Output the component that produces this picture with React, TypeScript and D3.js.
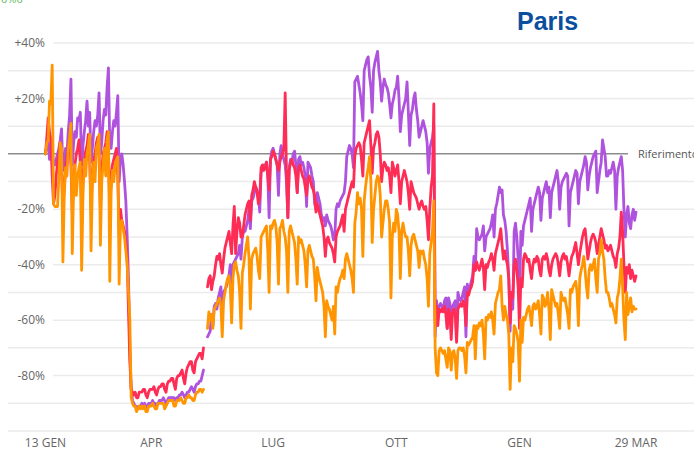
import React, { useEffect } from 'react';
import * as d3 from 'd3';

// daily values from 13 Jan 2020 to 29 Mar 2021, one row per week (Mon..Sun)
const startDate = new Date(2020, 0, 13);
const endDate = new Date(2021, 2, 29);

const xTickDates = [new Date(2020, 0, 13), new Date(2020, 3, 1), new Date(2020, 6, 1), new Date(2020, 9, 1), new Date(2021, 0, 1), new Date(2021, 2, 29)];
const xTickLabels = ['13 GEN', 'APR', 'LUG', 'OTT', 'GEN', '29 MAR'];
const yGrid = [40, 30, 20, 10, -10, -20, -30, -40, -50, -60, -70, -80, -90, -100];
const yLabelTicks = [40, 20, -20, -40, -60, -80];

const walking: (number | null)[] = [
    0, 3, 5, -2, 0, 3, -4,
    -4, -2, 0, 2, 5, 9, -6,
    -3, 2, 0, 8, 14, 27, -4,
    4, 8, 6, 13, 12, 15, -4,
    3, 8, 12, 19, 10, 15, -3,
    2, 8, 12, 10, 14, 22, 0,
    4, 12, 16, 14, 24, 31, 3,
    2, 8, 12, 10, 15, 21, -10,
    -2, 0, -4, -10, -17, -30, -45,
    -70, -85, -89, -90, -91, -91, -92,
    -91, -91, -90, -91, -90, -91, -92,
    -90, -90, -90, -89, -90, -90, -91,
    -90, -89, -89, -89, -88, -89, -90,
    -89, -88, -88, -88, -88, -88, -89,
    -88, -88, -87, -87, -86, -87, -88,
    -87, -86, -86, -85, -84, -85, -86,
    -84, -83, -83, -82, -82, -80, -78,
    null, null, -66, -65, -64, -58, -62,
    -55, -54, -56, -52, -50, -48, -57,
    -50, -49, -48, -46, -44, -40, -48,
    -40, -39, -38, -37, -36, -33, -38,
    -30, -28, -28, -26, -24, -20, -27,
    -17, -16, -14, -12, -13, -15, -21,
    -7, -5, -4, -5, -3, -8, -23,
    -2, 1, 2, 0, -2, -4, -15,
    0, 3, 0, -2, -4, -10, -23,
    -5, -2, -3, 0, 1, -4, -14,
    -2, -1, -4, -3, -5, -8, -19,
    -3, -4, -5, -8, -10, -18, -20,
    -14, -16, -18, -22, -24, -23, -26,
    -22, -24, -25, -26, -28, -31, -30,
    -20, -18, -19, -17, -16, -15, -14,
    -10, -1, 1, 3, 2, 0, -5,
    26, 27, 28, 25, 22, 18, 12,
    30, 32, 34, 35, 28, 24, 15,
    30, 33, 35, 37, 30, 26, 19,
    24, 27, 25, 24, 22, 18, 13,
    18, 20, 23, 24, 28, 20, 8,
    14, 16, 18, 20, 26, 15, 3,
    14, 16, 20, 22, 16, 12, 6,
    8, 10, 12, 10, 8, 4, -7,
    2, 4, 6, 10, -66, -53, -58,
    -55, -54, -55, -56, -53, -52, -63,
    -52, -54, -60, -55, -54, -53, -66,
    -50, -52, -53, -52, -50, -48, -66,
    -47, -49, -48, -46, -44, -37, -42,
    -27, -30, -31, -30, -29, -26, -35,
    -30, -29, -28, -27, -25, -22, -30,
    -20, -18, -15, -12, -14, -13, -22,
    -24, -28, -35, -45, -64, -50, -56,
    -28, -25, -30, -38, -55, -28, -33,
    -26, -24, -22, -20, -18, -16, -28,
    -20, -18, -16, -14, -12, -14, -24,
    -16, -14, -12, -10, -14, -12, -23,
    -14, -12, -10, -8, -6, -10, -20,
    -12, -10, -9, -8, -7, -8, -26,
    -14, -12, -10, -8, -6, -7, -18,
    -10, -8, -6, -4, -1, -3, -13,
    -8, -5, -3, -1, 0, 1, -14,
    -10, -6, -3, 5, 2, -1, -8,
    -8, -6, -7, -5, -3, -6, -20,
    -8, -5, -3, -1, -6, -20, -30,
    -22, -19, -25, -27, -22, -20, -24,
    -21,
];

const driving: (number | null)[] = [
    0, 6, 13, 8, 5, -8, -18,
    -15, -8, -3, 0, 4, -5, -20,
    -12, -5, -1, 2, 6, -4, -21,
    -10, -4, 0, 2, 5, -3, -19,
    -8, -2, 1, 3, 7, -2, -19,
    -8, -2, 0, 4, 6, -1, -20,
    -6, 0, 2, 4, 8, 1, -21,
    -8, -4, -2, 0, 2, -8, -29,
    -20, -24, -26, -28, -32, -38, -57,
    -75, -85, -86, -87, -86, -88, -88,
    -86, -86, -86, -85, -85, -87, -88,
    -86, -85, -85, -85, -84, -86, -87,
    -85, -84, -84, -83, -83, -85, -86,
    -83, -82, -82, -81, -81, -83, -85,
    -81, -80, -80, -79, -78, -81, -83,
    -79, -77, -76, -75, -75, -78, -79,
    -75, -74, -73, -72, -72, -74, -70,
    null, null, -48, -45, -44, -49, -46,
    -44, -40, -37, -38, -36, -40, -43,
    -38, -34, -32, -30, -28, -32, -36,
    -26, -19, -36, -28, -23, -25, -30,
    -30, -26, -22, -20, -18, -17, -24,
    -15, -13, -10, -12, -14, -18, -16,
    -5, -4, -6, -5, -3, -8, -13,
    -2, -1, 1, 0, -2, -4, -6,
    -3, -1, 0, 2, 22, -8, -23,
    -6, -3, -2, -4, -5, -8, -14,
    -5, -4, -6, -8, -9, -12, -15,
    -9, -8, -10, -12, -13, -15, -21,
    -18, -20, -22, -24, -26, -30, -37,
    -31, -30, -32, -33, -34, -36, -39,
    -30, -28, -27, -26, -24, -22, -28,
    -20, -18, -16, -14, -12, -10, -12,
    -1, 2, 3, 4, 3, -2, -8,
    4, 6, 8, 10, 12, 3, -7,
    2, 4, 7, 8, 6, 0, -10,
    -5, -3, -4, -6, -5, -8, -14,
    -3, -5, -8, -6, -4, -10, -18,
    -10, -8, -6, -8, -10, -14, -20,
    -10, -12, -14, -15, -16, -18, -20,
    -18, -17, -19, -20, -19, -24, -31,
    -20, -12, -8, 18, -60, -55, -62,
    -56, -57, -56, -57, -55, -58, -63,
    -56, -58, -67, -57, -56, -58, -68,
    -56, -55, -54, -55, -53, -55, -62,
    -50, -51, -49, -48, -46, -40, -42,
    -39, -41, -42, -40, -38, -41, -49,
    -40, -41, -39, -38, -36, -38, -42,
    -36, -34, -32, -30, -27, -33, -38,
    -35, -38, -40, -45, -61, -50, -52,
    -40, -38, -42, -48, -63, -45, -48,
    -38, -36, -37, -39, -38, -42, -45,
    -40, -38, -39, -37, -38, -42, -44,
    -38, -37, -38, -36, -38, -42, -44,
    -40, -38, -37, -36, -37, -40, -44,
    -39, -37, -36, -38, -37, -40, -44,
    -40, -37, -36, -34, -32, -36, -40,
    -36, -33, -30, -28, -27, -32, -38,
    -35, -32, -30, -29, -30, -32, -36,
    -33, -30, -27, -29, -31, -34, -33,
    -35, -34, -33, -35, -37, -38, -41,
    -36, -34, -30, -21, -28, -40, -50,
    -41, -43, -40, -45, -42, -44, -46,
    -44,
];

const transit: (number | null)[] = [
    0, 4, 5, 19, 18, 32, -18,
    -19, -19, -19, -8, 4, 2, -39,
    -15, -5, -8, 2, 6, 11, -36,
    -12, -4, -15, -8, -5, -3, -42,
    -15, -2, -8, 0, 3, 7, -35,
    -12, -3, -10, 2, 4, 7, -33,
    -10, -4, 2, -8, 5, 8, -46,
    -14, -6, -10, -4, -2, -1, -47,
    -25, -24, -27, -30, -35, -40, -50,
    -60, -88, -90, -91, -91, -93, -92,
    -91, -92, -91, -92, -91, -93, -93,
    -91, -91, -91, -90, -91, -92, -92,
    -90, -90, -90, -90, -90, -92, -91,
    -90, -89, -89, -89, -89, -91, -91,
    -89, -89, -89, -88, -89, -90, -90,
    -88, -88, -87, -88, -88, -89, -89,
    -87, -86, -86, -85, -85, -86, -85,
    null, null, -63, -57, -60, -58, -63,
    -56, -55, -54, -53, -52, -55, -66,
    -53, -50, -47, -45, -44, -48, -61,
    -45, -40, -39, -42, -44, -50, -63,
    -43, -40, -36, -33, -30, -38, -56,
    -38, -36, -35, -34, -37, -42, -45,
    -30, -29, -28, -27, -26, -35, -50,
    -26, -27, -25, -24, -26, -32, -47,
    -27, -26, -24, -28, -30, -35, -50,
    -28, -26, -28, -30, -32, -38, -47,
    -30, -32, -31, -33, -35, -40, -48,
    -35, -33, -35, -37, -38, -44, -53,
    -41, -44, -46, -48, -50, -55, -66,
    -53, -55, -56, -58, -60, -55, -65,
    -48, -50, -47, -45, -44, -42, -45,
    -38, -36, -38, -40, -42, -45, -50,
    -25, -21, -14, -18, -16, -20, -37,
    -17, -12, -8, -5, -1, -10, -32,
    -20, -15, -10, -8, -9, -15, -30,
    -25, -20, -17, -17, -20, -25, -52,
    -30, -25, -28, -20, -22, -28, -45,
    -28, -25, -28, -30, -30, -35, -44,
    -33, -30, -29, -31, -33, -35, -41,
    -35, -36, -35, -38, -40, -45, -55,
    -36, -32, -28, -17, -70, -79, -80,
    -71, -70, -71, -72, -71, -74, -77,
    -70, -71, -78, -72, -71, -74, -81,
    -71, -70, -70, -71, -70, -73, -79,
    -68, -69, -68, -67, -66, -62, -74,
    -62, -63, -61, -62, -60, -65, -74,
    -59, -60, -58, -59, -57, -60, -65,
    -54, -52, -50, -49, -44, -55, -60,
    -55, -58, -60, -65, -85, -70, -75,
    -62, -63, -65, -68, -82, -60, -68,
    -59, -60, -58, -56, -55, -58, -62,
    -55, -54, -56, -55, -53, -58, -65,
    -51, -52, -55, -54, -50, -56, -67,
    -49, -51, -53, -55, -54, -58, -63,
    -50, -52, -53, -52, -55, -58, -63,
    -49, -50, -48, -47, -46, -50, -62,
    -45, -42, -40, -37, -42, -48, -52,
    -42, -40, -42, -40, -38, -45, -50,
    -38, -36, -31, -35, -38, -45, -50,
    -50, -52, -55, -54, -56, -58, -61,
    -52, -50, -45, -38, -48, -60, -67,
    -50, -58, -55, -52, -57, -55, -56,
    -56,
];

const seriesList = [
    { name: 'A piedi', values: walking, color: '#af52de' },
    { name: 'In auto', values: driving, color: '#ff2d55' },
    { name: 'Trasporti', values: transit, color: '#ff9500' },
];

const width = 694;
const height = 452;

const App: React.FC = () => {
    useEffect(() => {
        document.body.style.margin = '0';
    }, []);

    const x = d3.scaleTime().domain([startDate, endDate]).range([45.5, 636]);
    const y = d3.scaleLinear().domain([-100, 40]).range([431, 43]);

    const line = d3.line<number | null>()
        .defined(d => d != null)
        .x((d, i) => x(d3.timeDay.offset(startDate, i)))
        .y(d => y(d as number));

    const labelFont = "'Open Sans', 'Noto Sans', sans-serif";

    return (
        <svg width={width} height={height} style={{ display: 'block', background: '#fff' }}>
            <text x={1} y={3} fill="#5cb85c" fontSize={11} fontFamily={labelFont}>0%0</text>

            {/* grid */}
            {yGrid.map(v => (
                <line key={v} x1={yLabelTicks.includes(v) ? 53 : 8} x2={width} y1={y(v)} y2={y(v)}
                    stroke="#ebebeb" strokeWidth={1.5} />
            ))}
            {yLabelTicks.map(v => (
                <text key={v} x={45} y={y(v)} dy="0.35em" textAnchor="end" fill="#666"
                    fontSize={12} fontFamily={labelFont}>{(v > 0 ? '+' : '') + v + '%'}</text>
            ))}

            {/* reference line */}
            <line x1={8} x2={628} y1={y(0)} y2={y(0)} stroke="#8c8c8c" strokeWidth={1.5} />
            <text x={638} y={y(0)} dy="0.35em" fill="#555" fontSize={11} fontFamily={labelFont}>Riferimento</text>

            {xTickDates.map((d, i) => (
                <text key={i} x={x(d)} y={447} textAnchor="middle" fill="#666" fontSize={12}
                    fontFamily={labelFont}>{xTickLabels[i]}</text>
            ))}

            {seriesList.map(s => (
                <path key={s.name} d={line(s.values) || ''} fill="none" stroke={s.color}
                    strokeWidth={2.8} strokeLinejoin="round" strokeLinecap="round" />
            ))}

            <text x={517} y={30} fill="#0a4f9e" fontSize={25} fontWeight="bold"
                fontFamily="'Liberation Sans', Arial, sans-serif">Paris</text>
        </svg>
    );
};

export default App;
